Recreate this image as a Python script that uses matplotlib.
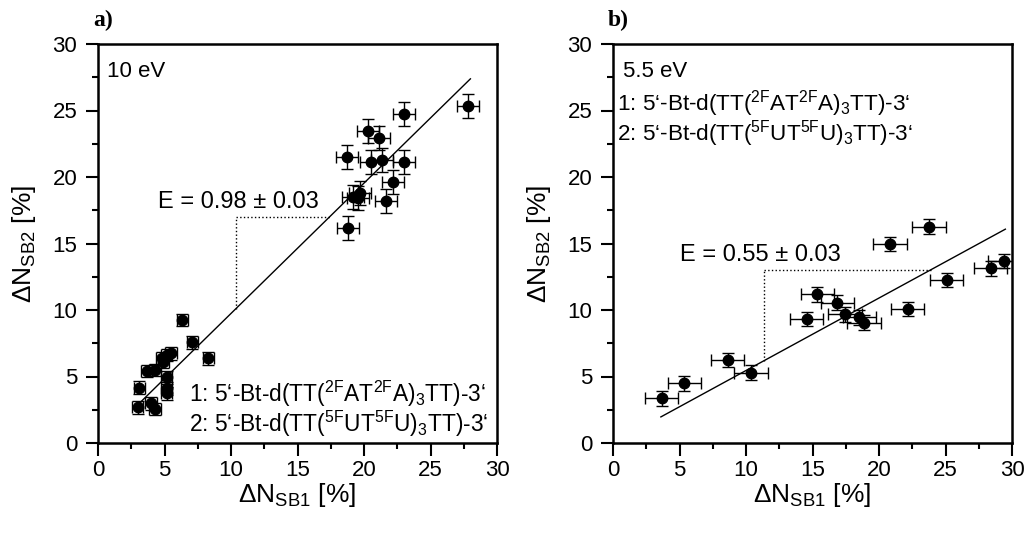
import matplotlib
matplotlib.use("Agg")
import matplotlib.pyplot as plt
from matplotlib.ticker import MultipleLocator

plt.rcParams['font.family'] = ['Liberation Sans', 'DejaVu Sans']
plt.rcParams['mathtext.fontset'] = 'custom'
plt.rcParams['mathtext.rm'] = 'Liberation Sans'
plt.rcParams['mathtext.it'] = 'Liberation Sans:italic'
plt.rcParams['mathtext.bf'] = 'Liberation Sans:bold'

# ---- Panel a (10 eV) ----
a_x = [6.34, 7.09, 8.29, 3.11, 2.98, 3.98, 4.29, 3.66, 4.29, 4.79, 5.17, 5.49,
       5.17, 5.17, 5.17, 4.90,
       27.84, 23.0, 20.32, 21.15, 18.7, 20.5, 21.33, 23.03, 22.16, 19.2, 19.7,
       19.57, 21.65, 18.82]
a_y = [9.25, 7.57, 6.37, 4.16, 2.68, 2.98, 2.56, 5.41, 5.49, 6.37, 6.62, 6.74,
       4.94, 4.11, 3.74, 6.10,
       25.34, 24.74, 23.46, 22.9, 21.53, 21.1, 21.28, 21.1, 19.6, 18.52, 18.77,
       18.4, 18.2, 16.14]
a_xerr = [0.42] * 16 + [0.82] * 14
a_yerr = [0.48] * 16 + [0.9] * 14
a_slope, a_icpt = 0.98, -0.06
a_fit_x = [3.2, 28.0]
a_tri = [10.38, 17.0]   # x of vertical dotted line, y of horizontal dotted line

# ---- Panel b (5.5 eV) ----
b_x = [3.66, 5.36, 8.62, 10.38, 14.56, 15.36, 16.86, 17.44, 18.52, 18.87,
       22.16, 20.83, 23.76, 25.09, 28.4, 29.42]
b_y = [3.36, 4.49, 6.24, 5.29, 9.32, 11.18, 10.55, 9.68, 9.45, 9.05,
       10.08, 14.96, 16.26, 12.26, 13.13, 13.68]
b_xerr = [1.25] * 16
b_yerr = [0.55] * 16
b_slope, b_icpt = 0.545, 0.0
b_fit_x = [3.6, 29.5]
b_tri = [11.38, 13.03]

seq1 = '1: 5‘-Bt-d(TT($^{\\mathrm{2F}}$AT$^{\\mathrm{2F}}$A)$_{\\mathrm{3}}$TT)-3‘'
seq2 = '2: 5‘-Bt-d(TT($^{\\mathrm{5F}}$UT$^{\\mathrm{5F}}$U)$_{\\mathrm{3}}$TT)-3‘'

fig = plt.figure(figsize=(10.28, 5.34), dpi=100)
axA = fig.add_axes([98/1028, 1-443/534, 399/1028, 399/534])
axB = fig.add_axes([613/1028, 1-443/534, 399/1028, 399/534])


def style(ax):
    ax.set_xlim(0, 30)
    ax.set_ylim(0, 30)
    ax.xaxis.set_major_locator(MultipleLocator(5))
    ax.yaxis.set_major_locator(MultipleLocator(5))
    ax.xaxis.set_minor_locator(MultipleLocator(2.5))
    ax.yaxis.set_minor_locator(MultipleLocator(2.5))
    ax.tick_params(which='both', direction='out', top=False, right=False,
                   width=1.5, labelsize=16)
    ax.tick_params(which='major', length=9)
    ax.tick_params(which='minor', length=4.5)
    ax.tick_params(axis='x', pad=3)
    ax.tick_params(axis='y', pad=6)
    for s in ax.spines.values():
        s.set_linewidth(1.8)
    ax.set_xlabel('ΔN$_{\\mathrm{SB1}}$ [%]', fontsize=19, labelpad=0)
    ax.set_ylabel('ΔN$_{\\mathrm{SB2}}$ [%]', fontsize=19, labelpad=10)


def draw(ax, x, y, xe, ye, slope, icpt, fx, tri):
    ax.errorbar(x, y, xerr=xe, yerr=ye, fmt='o', color='black', ms=7.5,
                ecolor='black', elinewidth=1.0, capsize=4.5, capthick=1.0)
    ax.plot(fx, [slope * v + icpt for v in fx], color='black', lw=1.0)
    vx, hy = tri
    hx_end = (hy - icpt) / slope
    ax.plot([vx, vx], [slope * vx + icpt, hy], color='black', lw=1.0, ls=':')
    ax.plot([vx, hx_end], [hy, hy], color='black', lw=1.0, ls=':')


style(axA)
style(axB)
draw(axA, a_x, a_y, a_xerr, a_yerr, a_slope, a_icpt, a_fit_x, a_tri)
draw(axB, b_x, b_y, b_xerr, b_yerr, b_slope, b_icpt, b_fit_x, b_tri)

axA.text(0.023, 0.93, '10 eV', transform=axA.transAxes, fontsize=16,
         ha='left', va='center')
axA.text(4.5, 18.1, 'E = 0.98 ± 0.03', fontsize=17, ha='left', va='center')
axA.text(0.228, 0.122, seq1, transform=axA.transAxes, fontsize=16.4,
         ha='left', va='center')
axA.text(0.228, 0.048, seq2, transform=axA.transAxes, fontsize=16.4,
         ha='left', va='center')

axB.text(0.025, 0.93, '5.5 eV', transform=axB.transAxes, fontsize=16,
         ha='left', va='center')
axB.text(0.01, 0.85, seq1, transform=axB.transAxes, fontsize=16.2,
         ha='left', va='center')
axB.text(0.01, 0.775, seq2, transform=axB.transAxes, fontsize=16.2,
         ha='left', va='center')
axB.text(5.0, 14.1, 'E = 0.55 ± 0.03', fontsize=17, ha='left', va='center')

fig.text(93/1028, 1-20/534, 'a)', fontsize=17, fontweight='bold',
         family='Liberation Serif', ha='left', va='center')
fig.text(608/1028, 1-20/534, 'b)', fontsize=17, fontweight='bold',
         family='Liberation Serif', ha='left', va='center')

fig.savefig('out.png', dpi=100)
